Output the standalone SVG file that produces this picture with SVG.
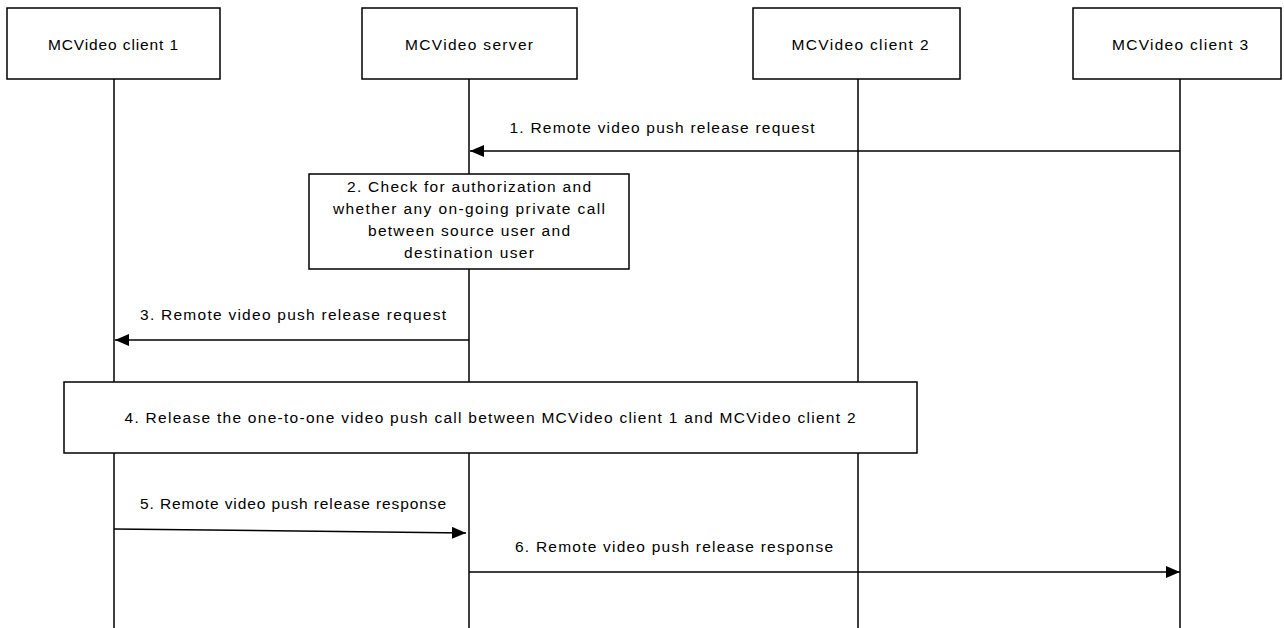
<svg xmlns="http://www.w3.org/2000/svg" width="1284" height="628" viewBox="0 0 1284 628">
<style>
.box{fill:#fff;stroke:#000;stroke-width:1.5}
.life{stroke:#000;stroke-width:1.5;fill:none}
.msg{stroke:#000;stroke-width:1.5;fill:none;marker-end:url(#ah)}
text{font-family:"Liberation Sans",Arial,sans-serif;font-size:15.5px;fill:#000;text-anchor:middle}
</style>
<defs>
<marker id="ah" viewBox="0 0 14 12" refX="14" refY="6" markerWidth="14" markerHeight="12" markerUnits="userSpaceOnUse" orient="auto">
<path d="M0,0 L14,6 L0,12 Z" fill="#000"/>
</marker>
</defs>
<rect width="1284" height="628" fill="#fff"/>
<g id="lifelines">
<line class="life" x1="114" y1="79" x2="114" y2="628"/>
<line class="life" x1="469" y1="79" x2="469" y2="628"/>
<line class="life" x1="858" y1="79" x2="858" y2="628"/>
<line class="life" x1="1180" y1="79" x2="1180" y2="628"/>
</g>
<g id="client1">
<rect class="box" x="7" y="8" width="213" height="71"/>
<text x="113" y="50" textLength="130" lengthAdjust="spacing">MCVideo client 1</text>
</g>
<g id="server">
<rect class="box" x="362" y="8" width="215" height="71"/>
<text x="469" y="50" textLength="128" lengthAdjust="spacing">MCVideo server</text>
</g>
<g id="client2">
<rect class="box" x="753" y="8" width="207" height="71"/>
<text x="860" y="50" textLength="137" lengthAdjust="spacing">MCVideo client 2</text>
</g>
<g id="client3">
<rect class="box" x="1073" y="8" width="208" height="71"/>
<text x="1180" y="50" textLength="136" lengthAdjust="spacing">MCVideo client 3</text>
</g>
<g id="step2">
<rect class="box" x="309" y="174" width="320" height="95"/>
<text x="469" y="192" textLength="244" lengthAdjust="spacing">2. Check for authorization and</text>
<text x="469" y="214" textLength="272" lengthAdjust="spacing">whether any on-going private call</text>
<text x="469" y="236" textLength="202" lengthAdjust="spacing">between source user and</text>
<text x="469" y="258" textLength="130" lengthAdjust="spacing">destination user</text>
</g>
<g id="step4">
<rect class="box" x="64" y="382" width="853" height="71"/>
<text x="490" y="423" textLength="731" lengthAdjust="spacing">4. Release the one-to-one video push call between MCVideo client 1 and MCVideo client 2</text>
</g>
<g id="connectors">
<line class="msg" x1="1180" y1="151" x2="470" y2="151"/>
<text x="662" y="133" textLength="305" lengthAdjust="spacing">1. Remote video push release request</text>
<line class="msg" x1="469" y1="340" x2="115" y2="340"/>
<text x="293" y="320" textLength="306" lengthAdjust="spacing">3. Remote video push release request</text>
<line class="msg" x1="114" y1="529" x2="466" y2="533"/>
<text x="293" y="509" textLength="306" lengthAdjust="spacing">5. Remote video push release response</text>
<line class="msg" x1="469" y1="572" x2="1180" y2="572"/>
<text x="674" y="552" textLength="318" lengthAdjust="spacing">6. Remote video push release response</text>
</g>
</svg>
